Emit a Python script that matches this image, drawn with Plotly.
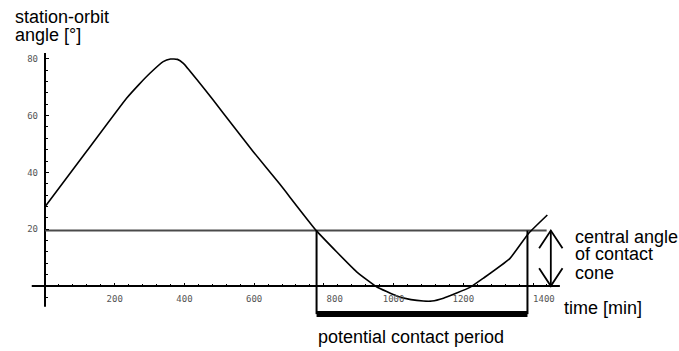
import plotly.graph_objects as go

# ---------------- data ----------------
time_min = [0, 120, 234, 270, 301, 339, 360, 380, 397, 435, 483, 540,
            598, 674, 779, 894, 951, 1009, 1050, 1085, 1110, 1143, 1219, 1257,
            1334, 1387, 1441]
angle_deg = [27.9, 47.5, 66.1, 71.0, 74.9, 79.0, 79.9, 79.8, 78.4,
             72.8, 65.4, 56.3, 47.2, 35.8, 19.4, 5.0, -0.25, -3.5, -4.8, -5.3,
             -5.3, -4.3, -0.5, 2.7, 9.75, 18.5, 25.0]

cone_angle = 19.5          # central angle of contact cone [deg]
cone_line_end = 1439       # end of the horizontal reference line [min]
contact_start = 779        # potential contact period start [min]
contact_end = 1384         # potential contact period end [min]
period_level = -9.9        # level at which the period bar is drawn
arrow_x = 1451             # position of the double arrow [min]

x_axis_extent = [-38, 1477]
y_axis_extent = [-7.3, 82]

x_major = [200, 400, 600, 800, 1000, 1200, 1400]
x_labels = ["200", "400", "600", "\u00a0\u00a0\u00a0\u00a0800", "1000", "1200",
            "\u00a0\u00a0\u00a0\u00a01400"]
x_minor = [v for v in range(40, 1441, 40) if v % 200 != 0]
y_major = [20, 40, 60, 80]
y_labels = ["20", "40", "60", "80"]
y_minor = [v for v in range(-4, 81, 4) if v % 20 != 0]

# ---------------- geometry ----------------
W, H = 679, 351
ML, MR, MT, MB = 20, 100, 45, 30
X0PX, XSCALE = 45, 0.3486     # pixel of x=0, px per minute
Y0PX, YSCALE = 286, 2.84      # pixel of y=0, px per degree

xrange = [(ML - X0PX) / XSCALE, (W - MR - X0PX) / XSCALE]
yrange = [(Y0PX - (H - MB)) / YSCALE, (Y0PX - MT) / YSCALE]

def px_paper(px):
    return (px - ML) / (W - ML - MR)

def py_paper(py):
    return 1 - (py - MT) / (H - MT - MB)

fig = go.Figure()

# axis lines
fig.add_trace(go.Scatter(x=x_axis_extent, y=[0, 0], mode="lines",
                         line=dict(color="black", width=2), hoverinfo="skip"))
fig.add_trace(go.Scatter(x=[0, 0], y=y_axis_extent, mode="lines",
                         line=dict(color="black", width=2), hoverinfo="skip"))

# horizontal cone line
fig.add_trace(go.Scatter(x=[0, cone_line_end], y=[cone_angle, cone_angle], mode="lines",
                         line=dict(color="#4a4a4a", width=2), hoverinfo="skip"))

# vertical lines at contact start/end
fig.add_trace(go.Scatter(x=[contact_start, contact_start, None, contact_end, contact_end],
                         y=[cone_angle, period_level, None, cone_angle, period_level],
                         mode="lines", line=dict(color="black", width=2), hoverinfo="skip"))

# period bar
fig.add_trace(go.Scatter(x=[contact_start, contact_end], y=[period_level, period_level],
                         mode="lines", line=dict(color="black", width=6), hoverinfo="skip",
                         cliponaxis=False))

# curve
fig.add_trace(go.Scatter(x=time_min, y=angle_deg, mode="lines",
                         line=dict(color="black", width=1.6, shape="spline", smoothing=0.4),
                         hoverinfo="skip"))

# double arrow (open V heads)
hdx = 11.7 / XSCALE
hdy = 17.7 / YSCALE
fig.add_trace(go.Scatter(
    x=[arrow_x, arrow_x, None,
       arrow_x - hdx, arrow_x, arrow_x + hdx, None,
       arrow_x - hdx, arrow_x, arrow_x + hdx],
    y=[0, cone_angle, None,
       cone_angle - hdy, cone_angle, cone_angle - hdy, None,
       hdy, 0, hdy],
    mode="lines", line=dict(color="black", width=1.8), hoverinfo="skip"))

tick_font = dict(family="DejaVu Sans Mono", size=9, color="#555555")

fig.update_layout(
    width=W, height=H,
    margin=dict(l=ML, r=MR, t=MT, b=MB),
    paper_bgcolor="white", plot_bgcolor="white",
    showlegend=False,
    xaxis=dict(range=xrange, showgrid=False, zeroline=False, showline=False,
               anchor="free", position=(0 - yrange[0]) / (yrange[1] - yrange[0]),
               tickmode="array", tickvals=x_major, ticktext=x_labels,
               ticks="inside", ticklen=3, tickwidth=1, tickcolor="black",
               tickfont=tick_font, ticklabelstandoff=6,
               minor=dict(tickmode="array", tickvals=x_minor, ticks="inside",
                          ticklen=2, tickwidth=1, tickcolor="black")),
    yaxis=dict(range=yrange, showgrid=False, zeroline=False, showline=False,
               anchor="free", position=(0 - xrange[0]) / (xrange[1] - xrange[0]),
               tickmode="array", tickvals=y_major, ticktext=y_labels,
               ticks="inside", ticklen=3, tickwidth=1, tickcolor="black",
               tickfont=tick_font, ticklabelstandoff=7,
               minor=dict(tickmode="array", tickvals=y_minor, ticks="inside",
                          ticklen=2, tickwidth=1, tickcolor="black")),
)

text_font = dict(family="Liberation Sans", size=18, color="black")
labels = [
    ("station-orbit", 14, 17.1),
    ("angle [°]", 14, 35.5),
    ("central angle", 574, 236.5),
    ("of contact", 574, 254.3),
    ("cone", 574, 272.8),
    ("time [min]", 562.7, 308.1),
    ("potential contact period", 317, 336.5),
]
for txt, px, py in labels:
    fig.add_annotation(text=txt, x=px_paper(px), y=py_paper(py), xref="paper", yref="paper",
                       xanchor="left", yanchor="middle", showarrow=False, font=text_font,
                       borderpad=0)

fig.write_html("out.html")
